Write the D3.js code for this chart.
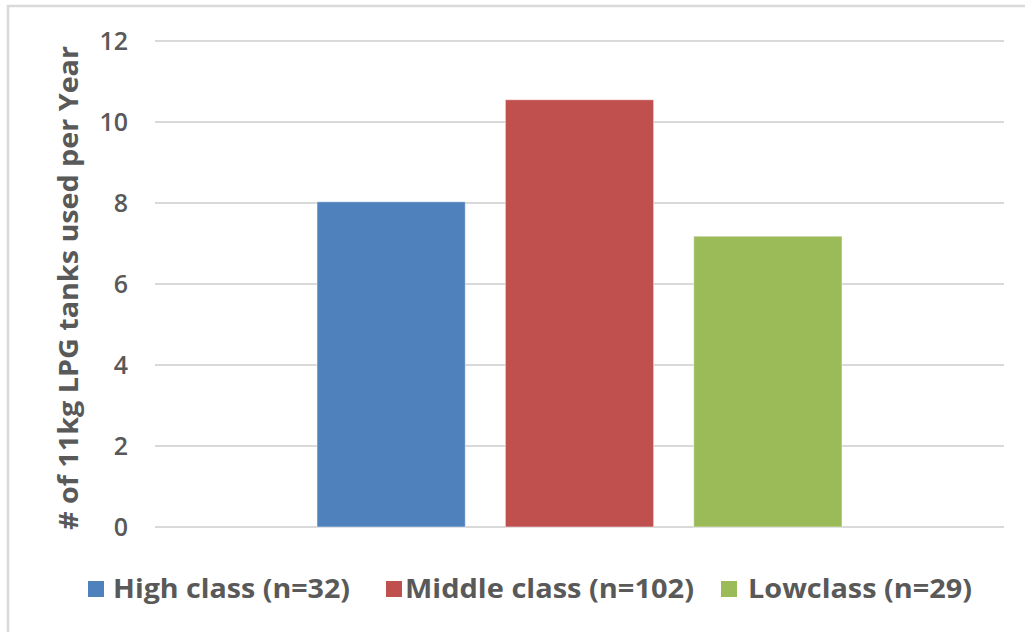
<!DOCTYPE html>
<html><head><meta charset="utf-8">
<script src="https://cdn.jsdelivr.net/npm/d3@7"></script>
<style>body{margin:0;background:#fff}svg{display:block}</style>
</head><body>
<script>
const seriesNames = ["High class (n=32)", "Middle class (n=102)", "Lowclass (n=29)"];
const seriesValues = [8.03, 10.55, 7.18];
const seriesColors = ["#4F81BD", "#C0504D", "#9BBB59"];
const yTicks = [0, 2, 4, 6, 8, 10, 12];
const yTitle = "# of 11kg LPG tanks used per Year";

const W = 1025, H = 632;
const svg = d3.select("body").append("svg").attr("width", W).attr("height", H);
svg.append("rect").attr("width", W).attr("height", H).attr("fill", "#fff");
// outer chart border
svg.append("rect").attr("x", 8).attr("y", 6).attr("width", W + 20).attr("height", H + 20)
  .attr("fill", "none").attr("stroke", "#D9D9D9").attr("stroke-width", 2.5);

const plotL = 155, plotR = 1004, plotT = 41, plotB = 527;
const y = d3.scaleLinear().domain([0, 12]).range([plotB, plotT]);
const groupW = (plotR - plotL) * 525 / 849;
const cx = (plotL + plotR) / 2;
const x = d3.scaleBand().domain(seriesNames).range([cx - groupW / 2, cx + groupW / 2]).paddingInner(40 / 188).paddingOuter(0);

const font = "'Open Sans', 'Liberation Sans', sans-serif";
// gridlines
svg.append("g").selectAll("line").data(yTicks).join("line")
  .attr("x1", plotL).attr("x2", plotR)
  .attr("y1", d => y(d)).attr("y2", d => y(d))
  .attr("stroke", "#D9D9D9").attr("stroke-width", 2);

// y axis labels
const yAxis = d3.axisLeft(y).tickValues(yTicks).tickSize(0).tickPadding(0);
const ga = svg.append("g").attr("transform", `translate(128,0)`).call(yAxis);
ga.select(".domain").remove();
ga.selectAll("text").attr("font-family", font).attr("font-weight", 600)
  .attr("font-size", 25).attr("fill", "#595959").attr("dy", "0.35em");

// bars
svg.append("g").selectAll("rect").data(seriesNames).join("rect")
  .attr("x", d => x(d)).attr("width", x.bandwidth())
  .attr("y", (d, i) => y(seriesValues[i]))
  .attr("height", (d, i) => y(0) - y(seriesValues[i]))
  .attr("fill", (d, i) => seriesColors[i])
  .attr("stroke", "#fff").attr("stroke-opacity", 0.5).attr("stroke-width", 1);

// y title
svg.append("text").attr("transform", `translate(78,288) rotate(-90)`)
  .attr("text-anchor", "middle").attr("font-family", font).attr("font-weight", "bold")
  .attr("font-size", 26).attr("fill", "#595959")
  .attr("textLength", 484).attr("lengthAdjust", "spacingAndGlyphs")
  .text(yTitle);

// legend
const legSq = [88, 386, 721];
const legTx = [113, 405, 748];
const legLen = [237, 289, 224];
const lg = svg.append("g");
seriesNames.forEach((n, i) => {
  lg.append("rect").attr("x", legSq[i]).attr("y", 581).attr("width", 16).attr("height", 16).attr("fill", seriesColors[i]);
  lg.append("text").attr("x", legTx[i]).attr("y", 598).attr("font-family", font).attr("font-weight", "bold")
    .attr("font-size", 27).attr("fill", "#595959")
    .attr("textLength", legLen[i]).attr("lengthAdjust", "spacingAndGlyphs").text(n);
});
</script>
</body></html>
